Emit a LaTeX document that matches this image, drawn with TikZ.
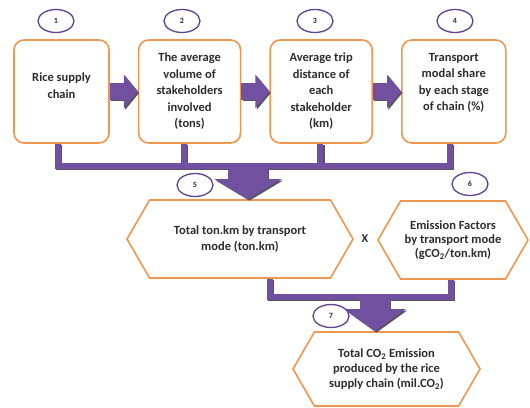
\documentclass[tikz,border=0pt]{standalone}
\usepackage{fontspec}
\setmainfont{Carlito}
\usepackage{tikz}
\usetikzlibrary{positioning,arrows.meta,shapes.geometric,shapes.symbols}
\definecolor{boxorange}{RGB}{240,150,78}
\definecolor{flowpurple}{RGB}{114,80,160}
\definecolor{ringpurple}{RGB}{96,66,146}
\definecolor{txtgray}{RGB}{45,45,45}
\definecolor{shadowgray}{RGB}{85,85,90}
\tikzset{
  % --- stages ----------------------------------------------------------------
  stagebox/.style={rectangle,draw=boxorange,line width=1.6pt,rounded corners=10pt,
                   fill=white,minimum height=103pt,align=center,inner sep=2pt,
                   text=txtgray},
  hexbox/.style={signal,signal to=west and east,signal pointer angle=120,
                 draw=boxorange,line width=1.6pt,fill=white,align=center,
                 inner sep=0pt,text=txtgray},
  numring/.style={ellipse,draw=ringpurple,line width=1.3pt,fill=white,
                  minimum width=36pt,minimum height=23pt,inner sep=0pt,
                  font=\bfseries\fontsize{8}{9}\selectfont,text=txtgray},
  % --- purple flow (ink is set per pass: shadow first, then purple) ----------
  ink/.style={draw=flowpurple},
  bus/.style={ink,line width=6pt},
  fatright/.style={ink,line width=17pt,-{Triangle[length=14pt,width=33pt]}},
  fatdown/.style={ink,line width=#1},
}

\begin{document}
\begin{tikzpicture}[x=1pt,y=-1pt,
    font=\bfseries\fontsize{12.5}{16.5}\selectfont,
    node distance=28pt]
  \useasboundingbox (0,0) rectangle (530,407);

  \node[stagebox,minimum width=95pt,text depth=12pt] (b1) at (61.5,91.5)
       {Rice supply\\chain};
  \node[stagebox,minimum width=102pt,right=of b1] (b2)
       {The average\\volume of\\stakeholders\\involved\\(tons)};
  \node[stagebox,minimum width=102pt,right=of b2] (b3)
       {Average trip\\distance of\\each\\stakeholder\\(km)};
  \node[stagebox,minimum width=104pt,text depth=19pt,right=of b3] (b4)
       {Transport\\modal share\\by each stage\\of chain (\%)};

  \node[hexbox,minimum width=226pt,minimum height=78pt] (h5) at (240,239)
       {Total ton.km by transport\\mode (ton.km)};
  \node[hexbox,minimum width=150pt,minimum height=78pt,
        font=\bfseries\fontsize{12.5}{14}\selectfont] (h6) at (453,240)
       {Emission Factors\\by transport mode\\(gCO\textsubscript{2}/ton.km)};
  \node[font=\bfseries\fontsize{12}{14}\selectfont,text=txtgray] (times)
       at (365,239) {X};
  \node[hexbox,minimum width=187pt,minimum height=74pt,
        font=\bfseries\fontsize{12.5}{15}\selectfont] (h7) at (386.5,369)
       {Total CO\textsubscript{2} Emission\\produced by the rice\\
        supply chain (mil.CO\textsubscript{2})};

  \coordinate (jn) at (248,166);
  \coordinate (jl) at (375,297);

  \foreach \col/\off in {shadowgray/1.4pt,flowpurple/0pt}{
    \begin{scope}[transform canvas={xshift=\off,yshift=-\off},
                  ink/.style={draw=\col}]
      \draw[fatright] (b1) -- (b2);
      \draw[fatright] (b2) -- (b3);
      \draw[fatright] (b3) -- (b4);
      % collector from the four stages into stage 5
      \draw[bus] ([xshift=-3.5pt]b1.south) |- (jn) -| ([xshift=-4pt]b4.south);
      \draw[bus] ([xshift=-6pt]b2.south) -- ([xshift=-6pt]b2.south |- jn);
      \draw[bus] ([xshift=-1pt]b3.south) -- ([xshift=-1pt]b3.south |- jn);
      \draw[fatdown=40pt,-{Triangle[length=20pt,width=66pt]}]
           (jn) -- (jn |- h5.north);
      % product of 5 and 6 gives stage 7
      \draw[bus] ([xshift=30pt]h5.south) |- (jl) -| ([xshift=-2pt]h6.south);
      \draw[fatdown=30pt,-{Triangle[length=22pt,width=60pt]}]
           (jl) -- (jl |- h7.north);
    \end{scope}
  }

  \node[numring] (n1) at (56,21) {1};
  \node[numring] (n2) at (182,21) {2};
  \node[numring] (n3) at (315,21) {3};
  \node[numring] (n4) at (455,21) {4};
  \node[numring] (n5) at (195,185) {5};
  \node[numring] (n6) at (470,184) {6};
  \node[numring] (n7) at (331,316) {7};
\end{tikzpicture}
\end{document}
